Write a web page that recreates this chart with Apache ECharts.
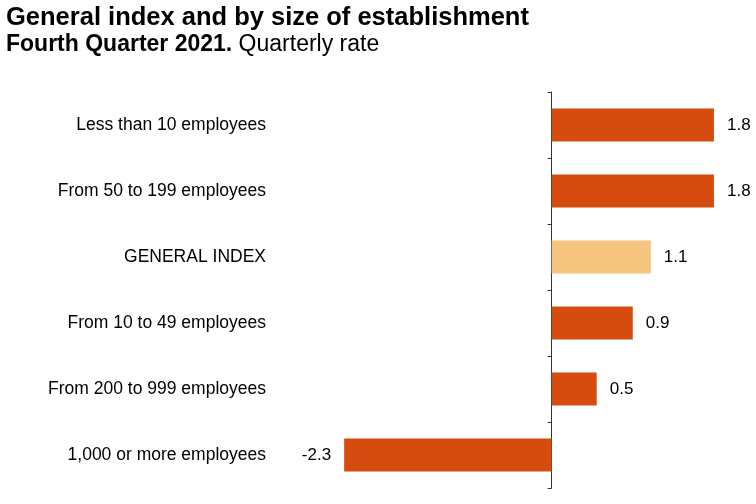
<!DOCTYPE html>
<html>
<head>
<meta charset="utf-8">
<script src="https://cdn.jsdelivr.net/npm/echarts@6/dist/echarts.min.js"></script>
<style>html,body{margin:0;padding:0;background:#fff;}#c{width:756px;height:504px;}</style>
</head>
<body>
<div id="c"></div>
<script>
const categories = ["Less than 10 employees","From 50 to 199 employees","GENERAL INDEX","From 10 to 49 employees","From 200 to 999 employees","1,000 or more employees"];
const values = [1.8, 1.8, 1.1, 0.9, 0.5, -2.3];
const highlight = "GENERAL INDEX";

const chart = echarts.init(document.getElementById('c'));
const font = "'Liberation Sans', Arial, sans-serif";
chart.setOption({
  animation: false,
  title: [{
    text: "General index and by size of establishment",
    left: 6, top: 5, padding: 0,
    textStyle: {fontFamily: font, fontSize: 25.5, fontWeight: 'bold', color: '#000'}
  },{
    text: "{b|Fourth Quarter 2021.} {n|Quarterly rate}",
    left: 6, top: 33, padding: 0,
    textStyle: {fontSize: 23, rich: {
      b: {fontFamily: font, fontSize: 23, fontWeight: 'bold', color: '#000'},
      n: {fontFamily: font, fontSize: 23, fontWeight: 'normal', color: '#000'}
    }}
  }],
  grid: {left: 281, width: 451, top: 92, height: 396, containLabel: false, outerBoundsMode: 'none'},
  xAxis: {type: 'value', min: -3, max: 2, show: false},
  yAxis: [{
    type: 'category', data: categories, inverse: true, position: 'left',
    axisLine: {show: false, onZero: false},
    axisTick: {show: false},
    axisLabel: {margin: 15, fontFamily: font, fontSize: 17.5, color: '#000'}
  },{
    type: 'category', data: categories, inverse: true, position: 'left',
    axisLine: {show: true, onZero: true, lineStyle: {color: '#333', width: 1}},
    axisTick: {show: true, length: 4, lineStyle: {color: '#333'}},
    axisLabel: {show: false}
  }],
  series: [{
    type: 'bar',
    barWidth: '50%',
    data: values.map((v, i) => ({
      value: v,
      itemStyle: {color: categories[i] === highlight ? '#F5C47F' : '#D64C0E'},
      label: {position: v < 0 ? 'left' : 'right'}
    })),
    label: {
      show: true, distance: 13,
      fontFamily: font, fontSize: 17, color: '#000',
      formatter: p => p.value.toFixed(1)
    }
  }]
});
</script>
</body>
</html>
